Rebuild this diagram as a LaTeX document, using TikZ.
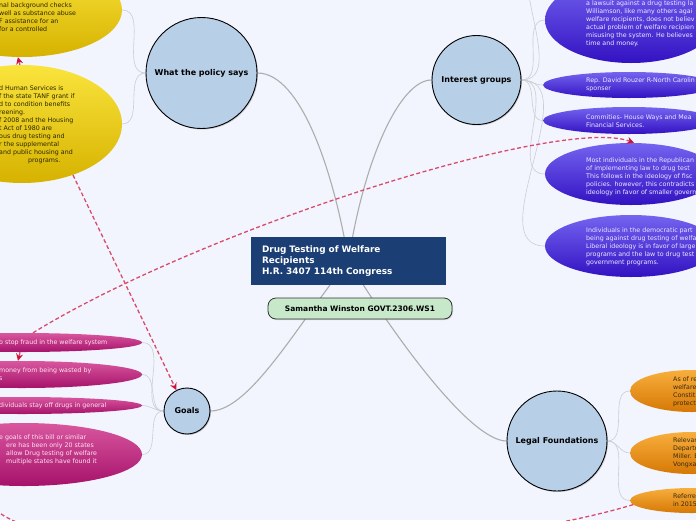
\documentclass[tikz,border=0pt]{standalone}
\usepackage{fontspec}
\setmainfont{DejaVu Sans}
\usepackage{tikz}
\usetikzlibrary{arrows.meta, shapes.geometric, shadows, backgrounds}
\definecolor{mapbg}{HTML}{F2F5FE}
\definecolor{topicblue}{HTML}{B8CFE8}
\definecolor{titleblue}{HTML}{1B3F74}
\definecolor{authorgreen}{HTML}{C8E8CA}
\definecolor{linkred}{HTML}{D94B6C}
\definecolor{tipred}{HTML}{CF1238}
\definecolor{branchgray}{HTML}{ADADAD}
\definecolor{twiggray}{HTML}{CDCDD3}
\definecolor{yelhi}{HTML}{FAE43C}
\definecolor{yello}{HTML}{D6B200}
\definecolor{yeltext}{HTML}{2A2600}
\definecolor{maghi}{HTML}{D9579F}
\definecolor{maglo}{HTML}{A6126A}
\definecolor{magtext}{HTML}{FBE3F1}
\definecolor{purhi}{HTML}{7464F0}
\definecolor{purlo}{HTML}{3312C2}
\definecolor{purtext}{HTML}{ECE8FF}
\definecolor{orahi}{HTML}{F8AE3C}
\definecolor{oralo}{HTML}{D67805}
\definecolor{oratext}{HTML}{3A2A10}

\begin{document}
\begin{tikzpicture}[
    x=1pt, y=-1pt,
    topic/.style={circle, draw=black, line width=0.9pt, fill=topicblue,
                  minimum size=#1, inner sep=0pt, font=\bfseries\fontsize{8}{9}\selectfont,
                  drop shadow={shadow xshift=1pt, shadow yshift=-1pt, opacity=0.4}},
    bubble/.style={ellipse, inner sep=0pt, top color=#1hi, bottom color=#1lo},
    note/.style={anchor=north west, inner sep=0pt, align=left, text=#1,
                 font=\fontsize{6.3}{8}\selectfont},
    branch/.style={draw=branchgray, line width=1.1pt},
    twig/.style={draw=twiggray, line width=0.6pt},
    link/.style={draw=linkred, line width=1.3pt, dash pattern=on 4pt off 2.5pt,
                 -{Stealth[length=7pt, width=7pt, color=tipred]}},
]
    \useasboundingbox (0,0) rectangle (696,520);
    \begin{scope}[on background layer]
        \fill[mapbg] (0,0) rectangle (696,520);
    \end{scope}
    \clip (0,0) rectangle (696,520);

    % Central topic
    \node[fill=titleblue, text=white, font=\bfseries\fontsize{8.9}{11}\selectfont,
          align=left, text width=173pt, inner xsep=11pt, minimum height=48pt]
          (title) at (348.5,261) {Drug Testing of Welfare\\Recipients\\H.R. 3407 114th Congress};
    \node[draw=black!80, fill=authorgreen, rounded corners=8pt, line width=0.8pt,
          minimum width=184pt, minimum height=21pt, font=\bfseries\fontsize{7.5}{8}\selectfont,
          drop shadow={shadow xshift=1pt, shadow yshift=-1pt, opacity=0.3}]
          (author) at (360,308.5) {Samantha Winston GOVT.2306.WS1};

    % Main topics
    \node[topic=111pt] (policy) at (201.5,73) {What the policy says};
    \node[topic=89pt] (interest) at (476.5,80) {Interest groups};
    \node[topic=46pt] (goals) at (187,411) {Goals};
    \node[topic=100pt] (legal) at (557,441) {Legal Foundations};

    % What the policy says
    \node[bubble=yel, minimum width=200pt, minimum height=94pt] (y1) at (22,10) {};
    \node[note=yeltext] (y1t) at (-1,3) {nal background checks\\well as substance abuse\\F assistance for an\\for a controlled};
    \node[bubble=yel, minimum width=200pt, minimum height=118pt] (y2) at (22,124) {};
    \node[note=yeltext] (y2t) at (-1,86) {d Human Services is\\f the state TANF grant if\\d to condition benefits\\reening.\\f 2008 and the Housing\\t Act of 1980 are\\ous drug testing and\\r the supplemental\\and public housing and\\\hspace*{29pt}programs.};

    % Goals
    \node[bubble=mag, minimum width=240pt, minimum height=19pt] (m1) at (22,342.5) {};
    \node[note=magtext] (m1t) at (-1,340) {o stop fraud in the welfare system};
    \node[bubble=mag, minimum width=240pt, minimum height=27pt] (m2) at (22,374.5) {};
    \node[note=magtext] (m2t) at (-1,368) {money from being wasted by\\s};
    \node[bubble=mag, minimum width=240pt, minimum height=17pt] (m3) at (22,405.5) {};
    \node[note=magtext] (m3t) at (-1,403) {dividuals stay off drugs in general};
    \node[bubble=mag, minimum width=236pt, minimum height=63pt] (m4) at (24,454.5) {};
    \node[note=magtext] (m4t) at (-1,435) {e goals of this bill or similar\\\hspace*{7pt}ere has been only 20 states\\\hspace*{7pt}allow Drug testing of welfare\\\hspace*{7pt}multiple states have found it};

    % Interest groups
    \node[bubble=pur, minimum width=172pt, minimum height=86pt] (p1) at (631,20) {};
    \node[note=purtext] (p1t) at (586,1) {a lawsuit against a drug testing la\\Williamson, like many others agai\\welfare recipients, does not believ\\actual problem of welfare recipien\\misusing the system. He believes\\time and money.};
    \node[bubble=pur, minimum width=172pt, minimum height=26pt] (p2) at (629,85) {};
    \node[note=purtext] (p2t) at (586,78) {Rep. David Rouzer R-North Carolin\\sponser};
    \node[bubble=pur, minimum width=172pt, minimum height=27pt] (p3) at (629,120.5) {};
    \node[note=purtext] (p3t) at (586,115) {Commities- House Ways and Mea\\Financial Services.};
    \node[bubble=pur, minimum width=172pt, minimum height=62pt] (p4) at (631,174) {};
    \node[note=purtext] (p4t) at (586,158) {Most individuals in the Republican\\of implementing law to drug test\\This follows in the ideology of fisc\\policies. however, this contradicts\\ideology in favor of smaller govern};
    \node[bubble=pur, minimum width=172pt, minimum height=62pt] (p5) at (631,246) {};
    \node[note=purtext] (p5t) at (586,228) {Individuals in the democratic part\\being against drug testing of welfa\\Liberal ideology is in favor of large\\programs and the law to drug test\\government programs.};
    \coordinate (p0) at (545,-45);

    % Legal Foundations
    \node[bubble=ora, minimum width=124pt, minimum height=42pt] (o1) at (692,391) {};
    \node[note=oratext] (o1t) at (673,377) {As of re\\welfare\\Constit\\protect};
    \node[bubble=ora, minimum width=124pt, minimum height=42pt] (o2) at (692,453) {};
    \node[note=oratext] (o2t) at (673,438) {Relevan\\Departm\\Miller. B\\Vongxa};
    \node[bubble=ora, minimum width=124pt, minimum height=25pt] (o3) at (692,500.5) {};
    \node[note=oratext] (o3t) at (673,494) {Referre\\in 2015};
    \coordinate (offleft) at (-10,505);

    % Branches
    \begin{scope}[on background layer]
        \draw[branch] (policy.east) .. controls +(43,0) and +(-15,-91) .. (title.center);
        \draw[branch] (interest.west) .. controls +(-32,0) and +(15,-100) .. (title.center);
        \draw[branch] (goals.east) .. controls +(40,0) and +(-48,59) .. (title.center);
        \draw[branch] (legal.west) .. controls +(-37,0) and +(42,70) .. (title.center);
        \foreach \b in {y1,y2}
            \draw[twig] (policy.west) to[out=180,in=0] (\b.east);
        \foreach \b in {m1,m2,m3,m4}
            \draw[twig] (goals.west) to[out=180,in=0] (\b.east);
        \foreach \b in {p0,p1,p2,p3,p4,p5}
            \draw[twig] (interest.east) to[out=0,in=180] (\b.west);
        \foreach \b in {o1,o2,o3}
            \draw[twig] (legal.east) to[out=0,in=180] (\b.west);
    \end{scope}

    % Links
    \draw[link] (y2.-45) -- (goals.117);
    \draw[link] (y2.92) -- (y1.-95);
    \draw[link] ([xshift=-2pt]m1.south) -- ([xshift=-4pt]m2.north);
    \draw[link] ([xshift=11pt]m1.north) .. controls (200,230) and (560,115) .. ([xshift=3pt]p4.north);
    \draw[link] (o3.184) .. controls (450,560) and (60,570) .. (offleft);
\end{tikzpicture}
\end{document}
